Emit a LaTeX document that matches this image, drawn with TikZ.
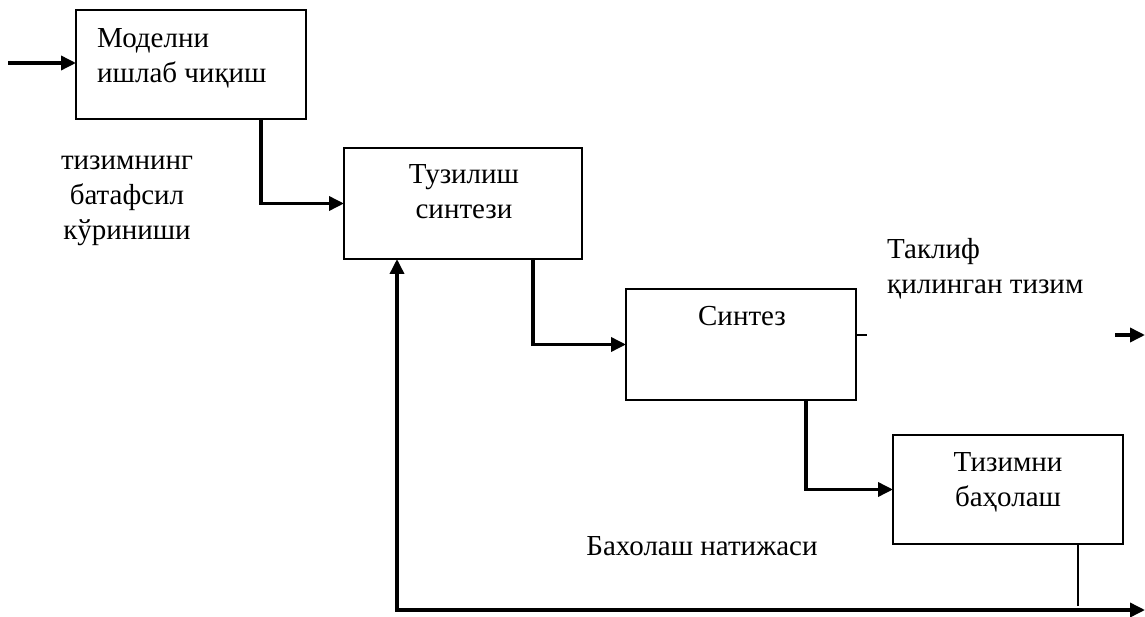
\documentclass[tikz,border=0pt]{standalone}
\usepackage{fontspec}
\setmainfont{Liberation Serif}
\usepackage{tikz}
\usetikzlibrary{positioning,arrows.meta}

\begin{document}
\begin{tikzpicture}[
        x=1pt, y=-1pt,
        box/.style={draw, rectangle, line width=1.8pt, inner sep=0pt, outer sep=0pt},
        txt/.style={font=\fontsize{29}{35}\selectfont, inner sep=0pt},
        flow/.style={line width=3.5pt, -{Triangle[length=15pt,width=14pt]}},
        thin/.style={line width=1.8pt}
    ]
        \useasboundingbox (0,0) rectangle (1145,617);

        % Blocks
        \node[box, minimum width=230pt, minimum height=109pt] (model) at (191,64.5) {};
        \node[box, minimum width=238pt, minimum height=111pt] (struct) at (463,203.5) {};
        \node[box, minimum width=230pt, minimum height=111pt] (synth) at (741,344.5) {};
        \node[box, minimum width=230pt, minimum height=109pt] (eval) at (1008,489.5) {};

        % Block texts
        \node[txt, align=left, anchor=west] (model-t) at (97,58.5) {Моделни\\ишлаб чиқиш};
        \node[txt, align=center] (struct-t) at (464,192) {Тузилиш\\синтези};
        \node[txt] (synth-t) at (742,316.5) {Синтез};
        \node[txt, align=center] (eval-t) at (1008,482) {Тизимни\\баҳолаш};

        % Free labels
        \node[txt, align=center] (view) at (127,201) {тизимнинг\\батафсил\\кўриниши};
        \node[txt, align=left, anchor=west] (offer) at (887,269) {Таклиф\\қилинган тизим};
        \node[txt] (result) at (702,546.5) {Бахолаш натижаси};

        % Free ends
        \coordinate (in) at (8,63);
        \coordinate (out) at (1145,335);
        \coordinate (fbend) at (1145,610);

        % Main flow
        \draw[flow] (in) -- (in -| model.west);
        \draw[flow] ([xshift=70pt]model.south) |- (struct.west);
        \draw[flow] ([xshift=70pt]struct.south) |- (synth.west);
        \draw[flow] ([xshift=65pt]synth.south) |- (eval.west);

        % Output of synthesis
        \draw[thin] ([yshift=9.5pt]synth.east) -- ++(11,0);
        \draw[flow] ([xshift=-30pt]out) -- (out);

        % Feedback
        \draw[thin] ([xshift=70pt]eval.south) -- ++(0,62);
        \draw[flow, {Triangle[length=15pt,width=14pt]}-{Triangle[length=15pt,width=14pt]}] ([xshift=-66pt]struct.south) |- (fbend);
    \end{tikzpicture}
\end{document}
